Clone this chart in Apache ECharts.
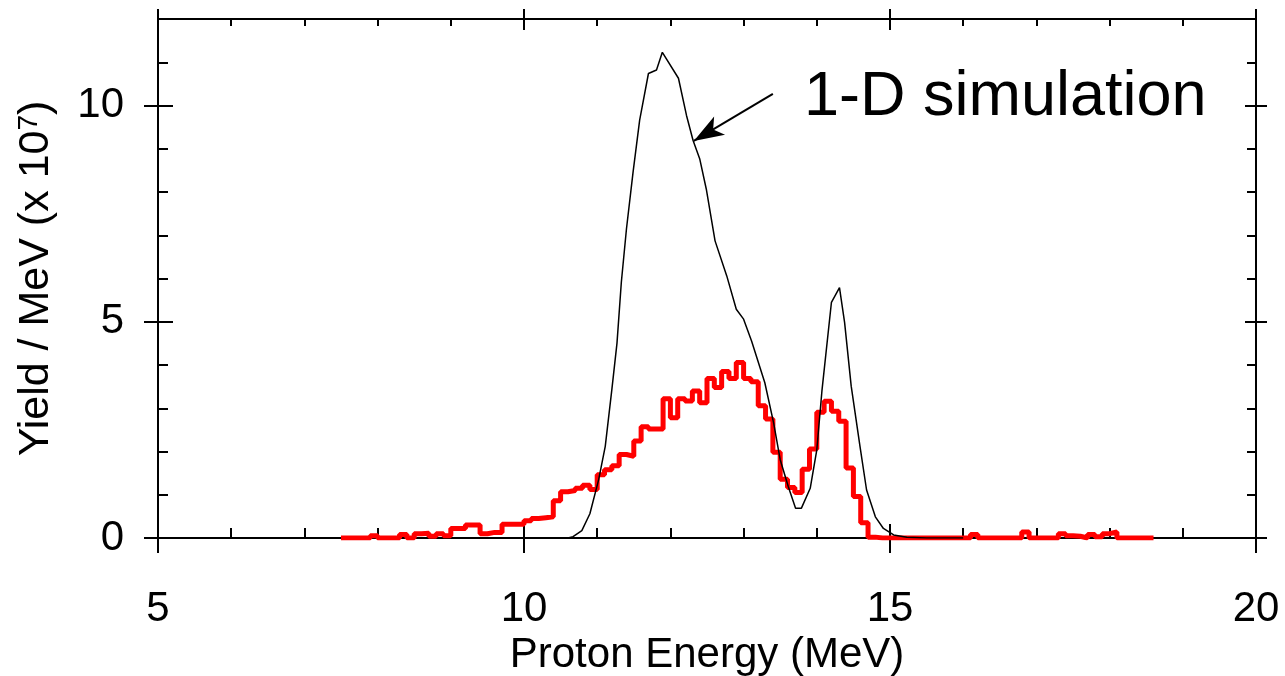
<!DOCTYPE html>
<html>
<head>
<meta charset="utf-8">
<style>
  html, body { margin: 0; padding: 0; background: #fff; }
  #chart { width: 1285px; height: 676px; }
</style>
<script src="https://cdn.jsdelivr.net/npm/echarts@6/dist/echarts.min.js"></script>
</head>
<body>
<div id="chart"></div>
<script>
// measured proton spectrum, 0.1 MeV bins starting at 7.5 MeV (x 10^7 / MeV)
const binStart = 7.5;
const binWidth = 0.1;
const measuredYield = [
    0, 0, 0, 0, 0.05, 0, 0, 0, 0.08, 0,
    0.1, 0.11, 0.04, 0.1, 0.05, 0.22, 0.22, 0.3, 0.3, 0.1,
    0.13, 0.13, 0.32, 0.32, 0.32, 0.4, 0.45, 0.47, 0.49, 0.86,
    1.07, 1.1, 1.15, 1.22, 1.12, 1.46, 1.58, 1.67, 1.93, 1.89,
    2.24, 2.57, 2.52, 2.52, 3.22, 2.78, 3.22, 3.17, 3.4, 3.13,
    3.69, 3.48, 3.85, 3.69, 4.06, 3.69, 3.61, 3.06, 2.75, 1.98,
    1.36, 1.17, 1.05, 1.59, 2.06, 2.91, 3.16, 2.93, 2.7, 1.62,
    0.96, 0.35, 0.02, 0, 0, 0, 0, 0, 0, 0,
    0, 0, 0, 0, 0, 0, 0.08, 0, 0, 0,
    0, 0, 0, 0.14, 0, 0, 0, 0, 0.1, 0.05,
    0.04, 0, 0.08, 0.03, 0.1, 0.14, 0, 0, 0, 0,
    0
];

// 1-D simulation curve
const simEnergy = [
    10.5, 10.6, 10.67, 10.79, 10.9, 11.02, 11.11, 11.2, 11.27, 11.33,
    11.4, 11.49, 11.58, 11.7, 11.81, 11.89, 12.11, 12.22, 12.31, 12.4,
    12.49, 12.61, 12.77, 12.9, 13.0, 13.11, 13.29, 13.41, 13.5, 13.61,
    13.71, 13.79, 13.91, 14.0, 14.07, 14.2, 14.31, 14.38, 14.47, 14.59,
    14.68, 14.8, 14.91, 15.05, 15.23, 15.5, 16.0
];
const simYield = [
    0, 0, 0.03, 0.17, 0.56, 1.35, 2.12, 3.43, 4.5, 5.92,
    7.15, 8.46, 9.66, 10.74, 10.82, 11.23, 10.63, 9.77, 9.19, 8.77,
    8.07, 6.87, 6.06, 5.29, 5.06, 4.55, 3.59, 2.66, 1.81, 1.19,
    0.69, 0.69, 1.15, 2.04, 3.4, 5.45, 5.79, 4.98, 3.51, 2.12,
    1.11, 0.49, 0.22, 0.07, 0.02, 0, 0
];

const xMajorTicks = [5, 10, 15, 20];
const yMajorTicks = [0, 5, 10];
const annotationText = '1-D simulation';
const arrowFrom = [13.40, 10.27];
const arrowTo = [12.32, 9.18];

const FONT = '"Liberation Sans", Arial, sans-serif';

// step data: left bin edges, plus closing edge
const histData = measuredYield.map((v, i) => [+(binStart + i * binWidth).toFixed(2), v]);
histData.push([+(binStart + measuredYield.length * binWidth).toFixed(2), measuredYield[measuredYield.length - 1]]);

const simData = simEnergy.map((e, i) => [e, simYield[i]]);

function xAx(pos, interval, len, inside, showLine) {
    return {
        type: 'value', position: pos, min: 5, max: 20, interval: interval,
        axisLine: { show: showLine, onZero: false, lineStyle: { color: '#000', width: 2 } },
        axisTick: { show: true, inside: inside, length: len, lineStyle: { color: '#000', width: 2 } },
        axisLabel: { show: false },
        splitLine: { show: false }
    };
}

function yAx(pos, len, inside, major, showLine) {
    const tick = { show: true, inside: inside, length: len, lineStyle: { color: '#000', width: 2 } };
    if (major) tick.customValues = yMajorTicks;
    return {
        type: 'value', position: pos, min: 0, max: 12, interval: 1,
        axisLine: { show: showLine, onZero: false, lineStyle: { color: '#000', width: 2 } },
        axisTick: tick,
        axisLabel: { show: false },
        splitLine: { show: false }
    };
}

const xAxes = [
    xAx('bottom', 5, 15, false, true),
    xAx('bottom', 5, 14, true, false),
    xAx('bottom', 1, 10, true, false),
    xAx('top', 5, 10, false, true),
    xAx('top', 5, 11, true, false),
    xAx('top', 1, 7, true, false)
];
xAxes[0].axisLabel = {
    show: true, fontSize: 42, fontFamily: FONT, color: '#000', margin: 50,
    customValues: xMajorTicks
};
xAxes[0].name = 'Proton Energy (MeV)';
xAxes[0].nameLocation = 'middle';
xAxes[0].nameGap = 91;
xAxes[0].nameTextStyle = { fontSize: 42, fontFamily: FONT, color: '#000' };

const yAxes = [
    yAx('left', 14, false, true, true),
    yAx('left', 15, true, true, false),
    yAx('left', 10, true, false, false),
    yAx('right', 11, false, true, true),
    yAx('right', 11, true, true, false),
    yAx('right', 9, true, false, false)
];
yAxes[0].axisLabel = {
    show: true, fontSize: 42, fontFamily: FONT, color: '#000', margin: 34,
    customValues: yMajorTicks
};
yAxes[0].name = 'Yield / MeV (x 10{s|7})';
yAxes[0].nameLocation = 'middle';
yAxes[0].nameGap = 100;
yAxes[0].nameTextStyle = {
    fontSize: 43, fontFamily: FONT, color: '#000',
    rich: { s: { fontSize: 28, fontFamily: FONT, color: '#000', verticalAlign: 'top', lineHeight: 28 } }
};

const chart = echarts.init(document.getElementById('chart'), null, { renderer: 'canvas' });

chart.setOption({
    backgroundColor: '#fff',
    animation: false,
    grid: { left: 158, right: 29, top: 19, bottom: 138, outerBoundsMode: 'none' },
    xAxis: xAxes,
    yAxis: yAxes,
    graphic: [{
        type: 'text',
        left: 804,
        top: 66,
        style: { text: annotationText, fontSize: 63, fontFamily: FONT, fill: '#000' }
    }],
    series: [
        {
            name: 'measured',
            type: 'line',
            step: 'end',
            data: histData,
            showSymbol: false,
            lineStyle: { color: '#ff0000', width: 5 },
            z: 2
        },
        {
            name: 'simulation',
            type: 'line',
            data: simData,
            showSymbol: false,
            lineStyle: { color: '#000', width: 1.5 },
            z: 3,
            markLine: {
                silent: true,
                animation: false,
                symbol: ['none', 'arrow'],
                symbolSize: [16, 30],
                label: { show: false },
                lineStyle: { color: '#000', width: 2, type: 'solid' },
                data: [[{ coord: arrowFrom }, { coord: arrowTo }]]
            }
        }
    ]
});
</script>
</body>
</html>
